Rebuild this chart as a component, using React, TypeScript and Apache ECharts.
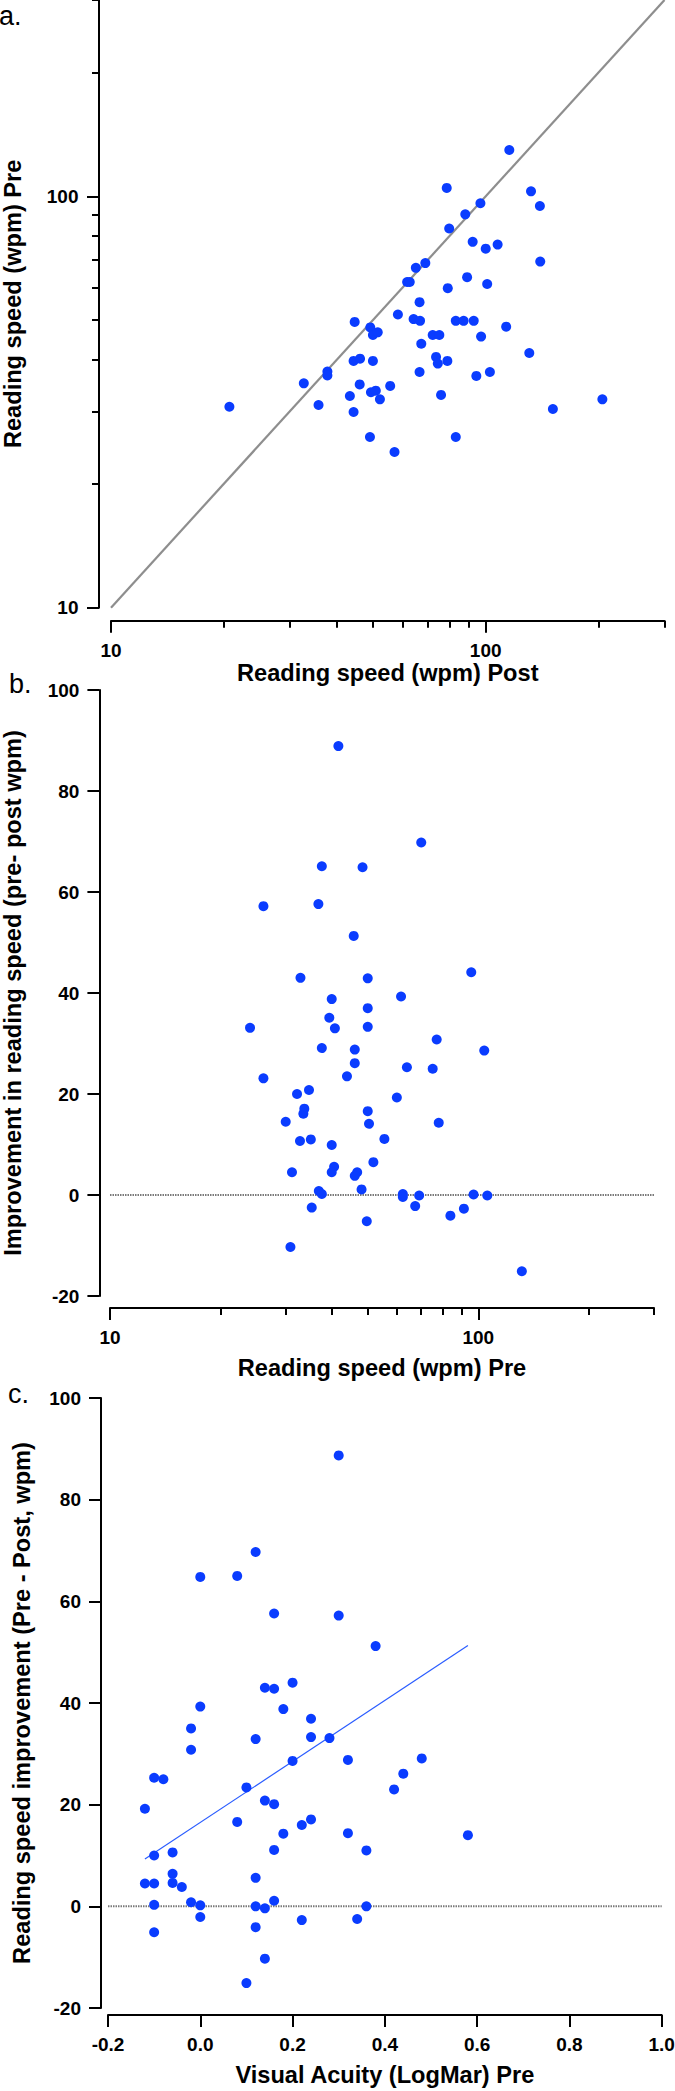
import React, { useEffect, useRef } from "react";
import * as echarts from "echarts";

// ---------- Panel a: reading speed post (x) vs pre (y), log-log ----------
const postA = [
  20.7, 32.7, 35.8, 37.8, 37.8, 43.4, 44.4, 44.7, 44.4, 46.2, 46.1, 49.2, 50.0, 51.5, 50.0, 49.4,
  50.9, 52.2, 49.1, 55.6, 57.1, 58.3, 61.7, 62.7, 65.1, 69.0, 64.2, 66.8, 66.6, 67.3, 66.6, 72.2,
  75.2, 73.7, 74.5, 79.0, 76.0, 78.7, 79.9, 79.2, 83.2, 87.3, 92.9, 83.2, 88.2, 89.2, 92.3, 96.8,
  97.2, 94.4, 100.0, 100.9, 102.6, 107.6, 113.4, 115.6, 130.7, 132.1, 139.5, 139.8, 151.1, 204.8,
];
const preA = [
  30.8, 35.1, 31.1, 37.5, 36.7, 32.7, 29.9, 49.5, 39.8, 40.3, 34.9, 48.0, 46.0, 46.7, 39.8, 33.4,
  33.7, 32.1, 26.0, 34.6, 23.9, 51.6, 61.9, 61.9, 67.0, 68.8, 50.3, 49.8, 55.3, 43.8, 37.4, 46.0,
  46.0, 40.7, 39.2, 39.8, 32.9, 104.8, 83.5, 59.8, 49.8, 49.8, 49.8, 26.0, 90.4, 63.6, 77.5, 96.2,
  45.6, 36.6, 74.6, 61.2, 37.4, 76.3, 48.2, 129.6, 41.6, 102.8, 94.7, 69.4, 30.4, 32.1,
];

// ---------- Panel b: reading speed pre (x, log) vs improvement (y) ----------
const preB = [
  41.7, 70.0, 37.6, 48.5, 26.1, 36.8, 45.9, 95.7, 32.9, 50.1, 61.7, 40.0, 50.1, 39.4, 40.8, 24.0,
  50.1, 77.1, 103.8, 37.6, 46.2, 46.2, 64.0, 75.2, 44.0, 26.1, 34.7, 32.2, 60.1, 33.7, 33.5, 50.1,
  50.5, 30.0, 78.1, 32.8, 35.1, 40.0, 55.6, 51.9, 40.6, 40.0, 46.9, 46.2, 31.2, 36.9, 37.6, 48.2,
  62.4, 62.4, 69.1, 97.1, 105.8, 35.3, 67.4, 84.0, 91.4, 49.8, 30.9, 131.3,
];
const improvB = [
  88.9, 69.8, 65.1, 64.9, 57.2, 57.6, 51.3, 44.1, 43.0, 42.9, 39.3, 38.8, 37.0, 35.1, 33.0, 33.1,
  33.3, 30.8, 28.6, 29.1, 28.8, 26.1, 25.3, 25.0, 23.5, 23.1, 20.8, 20.0, 19.3, 17.1, 16.1, 16.6,
  14.1, 14.5, 14.3, 10.7, 11.0, 9.9, 11.1, 6.5, 5.6, 4.5, 4.5, 3.8, 4.5, 0.8, 0.2, 1.1,
  0.2, -0.4, -0.1, 0.1, -0.1, -2.5, -2.2, -4.1, -2.7, -5.2, -10.3, -15.1,
];

// ---------- Panel c: visual acuity (x) vs improvement (y) ----------
const vaC = [
  0.3, 0.12, 0.0, 0.08, 0.16, 0.3, 0.38, 0.2, 0.14, 0.16, 0.18, 0.0, 0.24, -0.02, 0.12, 0.24,
  0.28, -0.02, 0.32, 0.48, 0.2, 0.44, -0.1, -0.08, 0.42, 0.1, 0.14, 0.16, -0.12, 0.08, 0.24, 0.22,
  0.18, 0.32, 0.58, 0.16, 0.36, -0.06, -0.1, -0.06, -0.12, -0.1, -0.06, -0.04, 0.12, -0.02, 0.0, -0.1,
  0.12, 0.14, 0.16, 0.36, 0.0, 0.22, 0.34, -0.1, 0.12, 0.14, 0.1,
];
const improvC = [
  88.7, 69.7, 64.8, 65.0, 57.6, 57.2, 51.2, 44.0, 43.0, 42.8, 38.8, 39.3, 36.9, 35.0, 32.9, 33.3,
  33.1, 30.8, 28.8, 29.1, 28.6, 26.1, 25.3, 25.0, 23.0, 23.4, 20.8, 20.1, 19.2, 16.6, 17.1, 16.0,
  14.3, 14.4, 14.0, 11.1, 11.0, 10.6, 10.0, 6.4, 4.5, 4.5, 4.6, 3.8, 5.6, 0.8, 0.2, 0.3,
  0.0, -0.4, 1.1, 0.0, -2.1, -2.7, -2.5, -5.1, -4.1, -10.3, -15.1,
];
// regression line end points (x, y)
const fitX = [-0.12, 0.58];
const fitY = [9.3, 51.3];

// ---------- axes ----------
const logRange = [10, 300];
const logMajor = [10, 100];
const logMinor = [20, 30, 40, 50, 60, 70, 80, 90, 200, 300];
const improvRange = [-20, 100];
const improvStep = 20;
const vaRange = [-0.2, 1.0];
const vaStep = 0.2;

const FONT = "'Liberation Sans', Arial, Helvetica, sans-serif";
const BLUE = "#0a3cff";
const LABEL_SIZE = 19;
const TITLE_SIZE = 23.6;
const DOT = 10;

const lineStyle = { color: "#000", width: 2 };
const labelStyle = (margin: number) => ({
  color: "#000",
  fontFamily: FONT,
  fontWeight: "bold" as const,
  fontSize: LABEL_SIZE,
  margin,
});
const nameStyle = {
  color: "#000",
  fontFamily: FONT,
  fontWeight: "bold" as const,
  fontSize: TITLE_SIZE,
};

function logAxisMajor(gridIndex: number, position: string, offset: number, name: string, nameGap: number, margin: number) {
  return {
    type: "log",
    logBase: 10,
    gridIndex,
    position,
    offset,
    min: logRange[0],
    max: logRange[1],
    name,
    nameLocation: "middle",
    nameGap,
    nameTextStyle: nameStyle,
    axisLine: { show: true, onZero: false, lineStyle },
    axisTick: { show: true, inside: false, length: 12, lineStyle, customValues: logMajor },
    axisLabel: {
      ...labelStyle(margin),
      customValues: logMajor,
      formatter: (v: number) => String(Math.round(v)),
    },
    splitLine: { show: false },
    minorTick: { show: false },
  };
}

function logAxisMinor(gridIndex: number, position: string, offset: number) {
  return {
    type: "log",
    logBase: 10,
    gridIndex,
    position,
    offset,
    min: logRange[0],
    max: logRange[1],
    axisLine: { show: false, onZero: false },
    axisTick: { show: true, inside: false, length: 7, lineStyle, customValues: logMinor },
    axisLabel: { show: false },
    splitLine: { show: false },
  };
}

function valueAxis(
  gridIndex: number,
  position: string,
  offset: number,
  range: number[],
  step: number,
  name: string,
  nameGap: number,
  margin: number,
  digits: number
) {
  return {
    type: "value",
    gridIndex,
    position,
    offset,
    min: range[0],
    max: range[1],
    interval: step,
    name,
    nameLocation: "middle",
    nameGap,
    nameTextStyle: nameStyle,
    axisLine: { show: true, onZero: false, lineStyle },
    axisTick: { show: true, inside: false, length: 12, lineStyle },
    axisLabel: {
      ...labelStyle(margin),
      showMinLabel: true,
      showMaxLabel: true,
      formatter: (v: number) => (Math.abs(v) < 1e-9 ? 0 : v).toFixed(digits),
    },
    splitLine: { show: false },
  };
}

const pairs = (xs: number[], ys: number[]) => xs.map((x, i) => [x, ys[i]]);

function buildOption() {
  return {
    animation: false,
    backgroundColor: "#fff",
    textStyle: { fontFamily: FONT },
    grid: [
      { left: 111, top: 0, width: 553.5, height: 607.7, containLabel: false, outerBoundsMode: "none" },
      { left: 110, top: 690, width: 544, height: 606, containLabel: false, outerBoundsMode: "none" },
      { left: 108, top: 1398, width: 553.7, height: 610, containLabel: false, outerBoundsMode: "none" },
    ],
    xAxis: [
      logAxisMajor(0, "bottom", 13, "Reading speed (wpm) Post", 34, 20.5),
      logAxisMinor(0, "bottom", 13),
      logAxisMajor(1, "bottom", 12, "Reading speed (wpm) Pre", 48, 20),
      logAxisMinor(1, "bottom", 12),
      valueAxis(2, "bottom", 7, vaRange, vaStep, "Visual Acuity (LogMar) Pre", 48, 19.5, 1),
    ],
    yAxis: [
      logAxisMajor(0, "left", 12, "Reading speed (wpm) Pre", 74.5, 20.5),
      logAxisMinor(0, "left", 12),
      valueAxis(1, "left", 10.6, improvRange, improvStep, "Improvement in reading speed (pre- post wpm)", 74.5, 20, 0),
      valueAxis(2, "left", 7, improvRange, improvStep, "Reading speed improvement (Pre - Post, wpm)", 67.5, 20, 0),
    ],
    series: [
      {
        type: "line",
        xAxisIndex: 0,
        yAxisIndex: 0,
        data: [
          [logRange[0], logRange[0]],
          [logRange[1], logRange[1]],
        ],
        symbol: "none",
        silent: true,
        lineStyle: { color: "#8e8e8e", width: 2.2 },
        z: 1,
      },
      {
        type: "scatter",
        xAxisIndex: 0,
        yAxisIndex: 0,
        data: pairs(postA, preA),
        symbol: "circle",
        symbolSize: DOT,
        itemStyle: { color: BLUE, opacity: 1 },
        z: 3,
      },
      {
        type: "line",
        xAxisIndex: 2,
        yAxisIndex: 2,
        data: [
          [logRange[0], 0],
          [logRange[1], 0],
        ],
        symbol: "none",
        silent: true,
        lineStyle: { color: "#7a7a7a", width: 2, type: [1.5, 1] },
        z: 1,
      },
      {
        type: "scatter",
        xAxisIndex: 2,
        yAxisIndex: 2,
        data: pairs(preB, improvB),
        symbol: "circle",
        symbolSize: DOT,
        itemStyle: { color: BLUE, opacity: 1 },
        z: 3,
      },
      {
        type: "line",
        xAxisIndex: 4,
        yAxisIndex: 3,
        data: [
          [vaRange[0], 0],
          [vaRange[1], 0],
        ],
        symbol: "none",
        silent: true,
        lineStyle: { color: "#7a7a7a", width: 2, type: [1.5, 1] },
        z: 1,
      },
      {
        type: "line",
        xAxisIndex: 4,
        yAxisIndex: 3,
        data: pairs(fitX, fitY),
        symbol: "none",
        silent: true,
        lineStyle: { color: "#2a5cff", width: 1.2 },
        z: 2,
      },
      {
        type: "scatter",
        xAxisIndex: 4,
        yAxisIndex: 3,
        data: pairs(vaC, improvC),
        symbol: "circle",
        symbolSize: DOT,
        itemStyle: { color: BLUE, opacity: 1 },
        z: 3,
      },
    ],
    graphic: [
      { type: "text", x: -1, y: 15.6, style: { text: "a.", fontFamily: FONT, fontSize: 27, fill: "#000", verticalAlign: "middle" } },
      { type: "text", x: 9, y: 684, style: { text: "b.", fontFamily: FONT, fontSize: 27, fill: "#000", verticalAlign: "middle" } },
      { type: "text", x: 8, y: 1393.6, style: { text: "c.", fontFamily: FONT, fontSize: 27, fill: "#000", verticalAlign: "middle" } },
    ],
  };
}

export default function App() {
  const ref = useRef<HTMLDivElement>(null);
  useEffect(() => {
    if (!ref.current) return;
    const chart = echarts.init(ref.current, undefined, { renderer: "svg" });
    chart.setOption(buildOption() as any);
    return () => chart.dispose();
  }, []);
  return (
    <div
      ref={ref}
      style={{ position: "absolute", left: 0, top: 0, width: 675, height: 2091, background: "#fff" }}
    />
  );
}
